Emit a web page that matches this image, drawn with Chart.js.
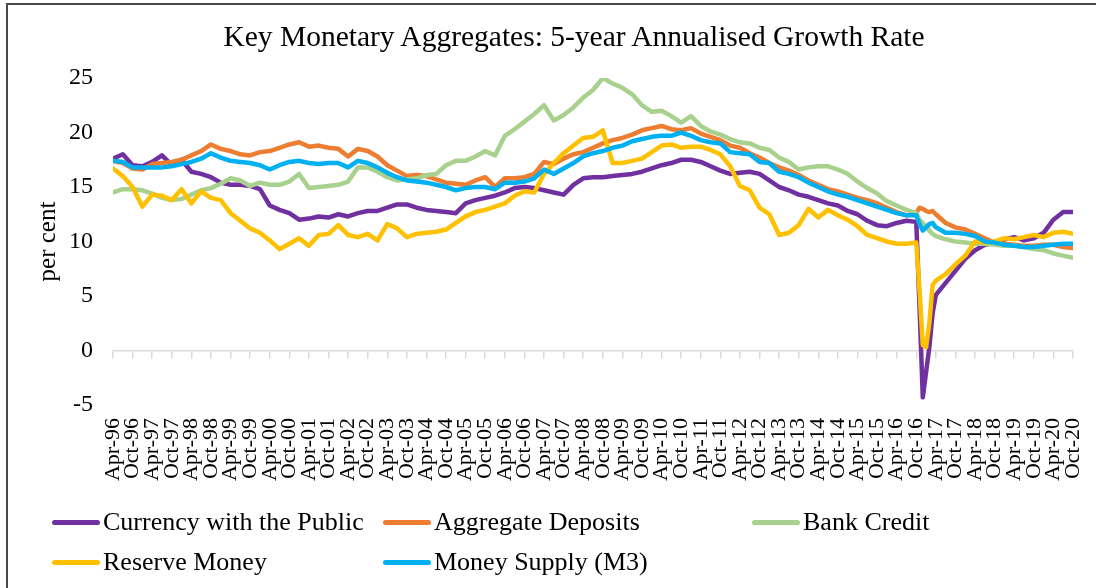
<!DOCTYPE html>
<html>
<head>
<meta charset="utf-8">
<title>Key Monetary Aggregates</title>
<script src="https://cdn.jsdelivr.net/npm/chart.js@4.4.1/dist/chart.umd.min.js"></script>
<style>
  html, body { margin: 0; padding: 0; background: #fff; }
  #wrap { position: relative; width: 1096px; height: 588px; overflow: hidden;
          font-family: "Liberation Serif", "Times New Roman", serif; color: #000; }
  #plotCanvas { position: absolute; left: 0; top: 0; }
  #chartTitle { position: absolute; left: 574px; top: 18px; transform: translateX(-50%);
                font-size: 29.5px; line-height: 36px; white-space: nowrap; }
  #frame { position: absolute; left: 6px; top: 3px; width: 1100px; height: 583px;
           border-top: 2px solid #4a4a4a; border-left: 2px solid #4a4a4a;
           border-bottom: 1px solid #d0d0d0; pointer-events: none; }
  .legend-item { position: absolute; height: 30px; display: flex; align-items: center;
                 font-size: 26px; white-space: nowrap; }
  .legend-item .swatch { display: inline-block; width: 48px; height: 5px;
                         border-radius: 3px; margin-right: 3px; }
</style>
</head>
<body>
<div id="wrap">
  <canvas id="plotCanvas" width="1096" height="588"></canvas>
  <div id="chartTitle">Key Monetary Aggregates: 5-year Annualised Growth Rate</div>
  <div id="legend"></div>
  <div id="frame"></div>
</div>
<script>
// months counted from Apr-1996 (0) to Oct-2020 (294); quarterly, monthly around Nov-2016
const months = [0,3,6,9,12,15,18,21,24,27, 30,33,36,39,42,45,48,51,54,57,
  60,63,66,69,72,75,78,81,84,87, 90,93,96,99,102,105,108,111,114,117,
  120,123,126,129,132,135,138,141,144,147, 150,153,156,159,162,165,168,171,174,177,
  180,183,186,189,192,195,198,201,204,207, 210,213,216,219,222,225,228,231,234,237,
  240,243,246, 247,248,249,250,251,252,
  255,258,261,264,267,270,273,276,279,282,285,288,291,294];

const tickLabels = ["Apr-96","Oct-96","Apr-97","Oct-97","Apr-98","Oct-98","Apr-99","Oct-99",
  "Apr-00","Oct-00","Apr-01","Oct-01","Apr-02","Oct-02","Apr-03","Oct-03","Apr-04","Oct-04",
  "Apr-05","Oct-05","Apr-06","Oct-06","Apr-07","Oct-07","Apr-08","Oct-08","Apr-09","Oct-09",
  "Apr-10","Oct-10","Apr-11","Oct-11","Apr-12","Oct-12","Apr-13","Oct-13","Apr-14","Oct-14",
  "Apr-15","Oct-15","Apr-16","Oct-16","Apr-17","Oct-17","Apr-18","Oct-18","Apr-19","Oct-19",
  "Apr-20","Oct-20"];

const currency = [17.6,18.0,17.0,16.9,17.3,17.9,17.0,17.5,16.4,16.2,
  15.9,15.4,15.2,15.2,15.1,14.8,13.3,12.9,12.6,12.0,
  12.1,12.3,12.2,12.5,12.3,12.6,12.8,12.8,13.1,13.4,
  13.4,13.1,12.9,12.8,12.7,12.6,13.5,13.8,14.0,14.2,
  14.5,14.9,15.0,14.9,14.7,14.5,14.3,15.2,15.8,15.9,
  15.9,16.0,16.1,16.2,16.4,16.7,17.0,17.2,17.5,17.5,
  17.3,16.9,16.5,16.2,16.3,16.4,16.2,15.6,15.0,14.7,
  14.3,14.1,13.8,13.5,13.3,12.8,12.5,11.9,11.5,11.4,
  11.7,11.9,11.8, 4.0,-4.3,-2.0,0.3,3.4,5.1,
  6.2,7.3,8.4,9.2,9.7,9.9,10.2,10.4,10.1,10.3,10.8,12.0,12.7,12.7];

const deposits = [17.4,17.2,16.7,16.6,17.1,17.2,17.3,17.5,17.9,18.3,
  18.9,18.5,18.3,18.0,17.9,18.2,18.3,18.6,18.9,19.1,
  18.7,18.8,18.6,18.5,17.8,18.5,18.3,17.8,17.0,16.5,
  16.0,16.1,16.0,15.7,15.4,15.3,15.2,15.6,15.9,15.0,
  15.8,15.8,15.9,16.2,17.3,17.1,17.6,18.0,18.2,18.6,
  19.0,19.3,19.5,19.8,20.2,20.4,20.6,20.3,20.2,20.4,
  19.9,19.6,19.3,18.8,18.6,18.1,17.7,17.2,16.8,16.5,
  16.1,15.6,15.2,14.8,14.6,14.3,14.0,13.8,13.5,13.1,
  12.7,12.4,12.6, 13.1,13.0,12.8,12.7,12.8,12.5,
  11.7,11.3,11.1,10.7,10.3,9.9,9.8,9.7,9.6,9.6,9.7,9.7,9.5,9.4];

const bankCredit = [14.5,14.8,14.8,14.7,14.4,14.0,13.8,13.9,14.3,14.7,
  14.9,15.3,15.8,15.6,15.1,15.4,15.2,15.2,15.5,16.2,
  14.9,15.0,15.1,15.2,15.5,16.8,16.8,16.4,15.9,15.6,
  15.7,15.8,16.1,16.2,17.0,17.4,17.4,17.8,18.3,17.9,
  19.7,20.3,21.0,21.7,22.5,21.1,21.6,22.3,23.2,23.9,
  25.0,24.5,24.1,23.5,22.5,21.9,22.0,21.5,20.9,21.5,
  20.6,20.1,19.8,19.4,19.1,19.0,18.6,18.4,17.7,17.3,
  16.6,16.8,16.9,16.9,16.6,16.2,15.5,14.9,14.4,13.7,
  13.3,12.9,12.6, 12.0,11.7,11.4,11.0,10.7,10.5,
  10.2,10.0,9.9,9.8,9.8,9.7,9.6,9.6,9.5,9.3,9.2,8.9,8.7,8.5];

const reserveMoney = [16.7,16.0,15.0,13.2,14.3,14.2,13.8,14.8,13.5,14.6,
  14.0,13.8,12.6,11.9,11.2,10.8,10.1,9.3,9.8,10.3,
  9.6,10.6,10.7,11.5,10.6,10.4,10.7,10.1,11.6,11.2,
  10.4,10.7,10.8,10.9,11.1,11.7,12.3,12.7,12.9,13.2,
  13.5,14.2,14.6,14.5,16.2,17.2,18.1,18.8,19.5,19.6,
  20.2,17.2,17.2,17.4,17.6,18.2,18.8,18.9,18.6,18.7,
  18.7,18.4,18.0,16.9,15.1,14.7,13.1,12.5,10.6,10.8,
  11.5,13.0,12.2,12.9,12.4,12.0,11.4,10.6,10.3,10.0,
  9.8,9.8,9.9, 5.5,0.5,0.3,2.5,6.0,6.4,
  7.0,7.9,8.7,10.0,9.9,10.0,10.3,10.2,10.4,10.6,10.4,10.8,10.9,10.7];

const moneySupply = [17.4,17.3,16.8,16.8,16.8,16.8,16.9,17.1,17.3,17.6,
  18.1,17.7,17.4,17.3,17.2,17.0,16.6,17.0,17.3,17.4,
  17.2,17.1,17.2,17.2,16.8,17.4,17.2,16.8,16.3,15.9,
  15.6,15.5,15.4,15.2,15.0,14.7,14.9,15.0,15.0,14.8,
  15.4,15.4,15.5,15.8,16.6,16.2,16.7,17.2,17.8,18.1,
  18.3,18.6,18.8,19.2,19.4,19.6,19.7,19.7,20.0,19.7,
  19.3,19.1,19.0,18.2,18.1,18.0,17.3,17.2,16.4,16.2,
  15.9,15.4,15.0,14.6,14.3,14.1,13.8,13.5,13.2,12.9,
  12.6,12.4,12.4, 11.6,11.0,11.3,11.6,11.7,11.3,
  10.8,10.8,10.7,10.5,10.0,9.9,9.7,9.6,9.5,9.5,9.6,9.7,9.8,9.8];

const seriesNames  = ["Currency with the Public", "Aggregate Deposits", "Bank Credit", "Reserve Money", "Money Supply (M3)"];
const seriesValues = [currency, deposits, bankCredit, reserveMoney, moneySupply];
const seriesColors = ["#7030A0", "#ED7D31", "#A9D18E", "#FFC000", "#00B0F0"];

// legend slots (left, centre y) laid out like the original: 3 + 2
const legendSlots = [[52, 522], [383, 522], [752, 522], [52, 562], [383, 562]];
const legendBox = document.getElementById("legend");
seriesNames.forEach((name, i) => {
  const item = document.createElement("div");
  item.className = "legend-item";
  item.style.left = legendSlots[i][0] + "px";
  item.style.top = (legendSlots[i][1] - 15) + "px";
  item.innerHTML = '<span class="swatch" style="background:' + seriesColors[i] + '"></span>' + name;
  legendBox.appendChild(item);
});

Chart.defaults.font.family = "'Liberation Serif', 'Times New Roman', serif";
Chart.defaults.color = "#000";

const ctx = document.getElementById("plotCanvas").getContext("2d");
const chart = new Chart(ctx, {
  type: "line",
  data: {
    datasets: seriesNames.map((name, i) => ({
      label: name,
      data: months.map((m, j) => ({ x: m, y: seriesValues[i][j] })),
      borderColor: seriesColors[i],
      backgroundColor: seriesColors[i],
      borderWidth: 4.5,
      pointRadius: 0,
      tension: 0,
      borderCapStyle: "round",
      borderJoinStyle: "round",
      fill: false,
      xAxisID: "x",
      yAxisID: "y",
      order: seriesNames.length - i   // later series drawn on top, as in the original
    }))
  },
  options: {
    responsive: false,
    animation: false,
    layout: { padding: { left: 8, right: 23, top: 78, bottom: 88 } },
    plugins: {
      legend: { display: false },
      tooltip: { enabled: false },
      title: { display: false }
    },
    scales: {
      // tick labels at the bottom of the plot
      x: {
        type: "linear", position: "bottom", min: 0, max: 294,
        grid: { display: false, drawTicks: false, tickLength: 0 },
        border: { display: false },
        ticks: {
          stepSize: 6, maxTicksLimit: 60, autoSkip: false,
          minRotation: 90, maxRotation: 90, padding: 13,
          font: { size: 22 },
          callback: (v) => tickLabels[Math.round(v / 6)]
        },
        afterFit: (s) => { s.height = 95; s.paddingLeft = 0; s.paddingRight = 0; }
      },
      // axis line and tick marks crossing at zero
      x0: {
        type: "linear", position: { y: 0 }, min: 0, max: 294,
        grid: { drawOnChartArea: false, drawTicks: true, tickLength: 7, color: "#d9d9d9", lineWidth: 1.5 },
        border: { display: true, color: "#d9d9d9", width: 1.5 },
        ticks: { display: false, stepSize: 6, maxTicksLimit: 60 },
        afterFit: (s) => { s.height = 0; s.paddingLeft = 0; s.paddingRight = 0; }
      },
      y: {
        min: -5, max: 25,
        grid: { display: false, drawTicks: false, tickLength: 0 },
        border: { display: false },
        ticks: { stepSize: 5, padding: 20, font: { size: 24 } },
        title: { display: true, text: "per cent", font: { size: 25 }, padding: { top: 25, bottom: 0 } },
        afterFit: (s) => { s.width = 105; s.paddingTop = 0; s.paddingBottom = 0; }
      }
    }
  }
});
</script>
</body>
</html>
